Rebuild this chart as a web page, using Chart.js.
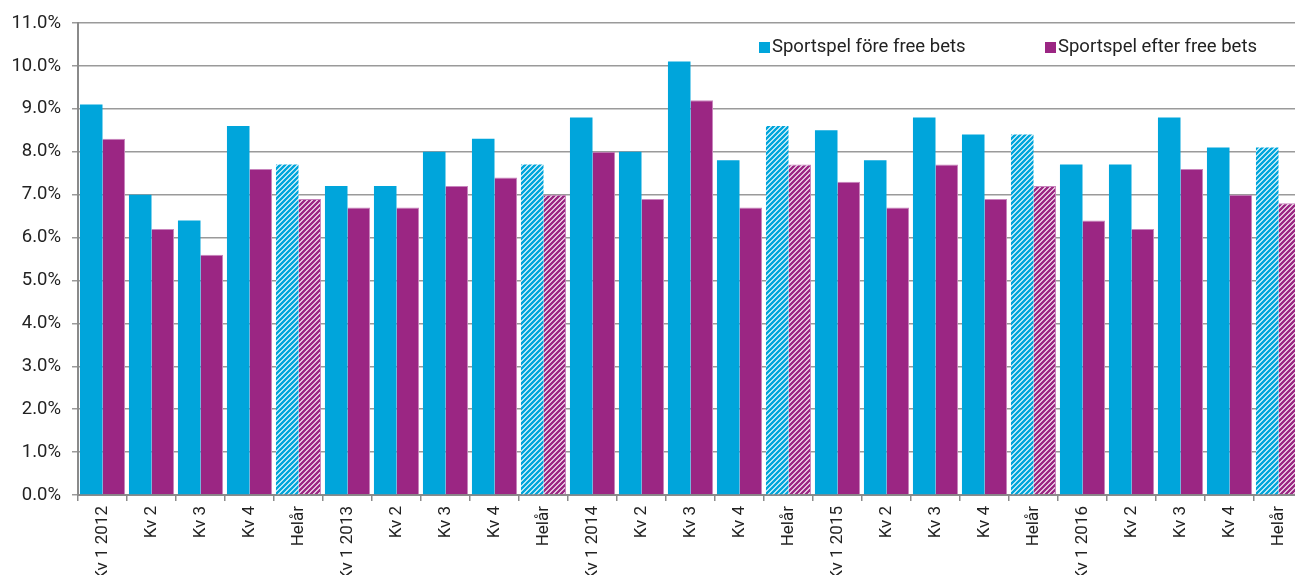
<!DOCTYPE html>
<html>
<head>
<meta charset="utf-8">
<script src="https://cdn.jsdelivr.net/npm/chart.js@4/dist/chart.umd.min.js"></script>
<style>
  html, body { margin: 0; padding: 0; background: #fff; overflow: hidden; }
  #wrap { width: 1305px; height: 575px; position: relative; }
</style>
</head>
<body>
<div id="wrap"><canvas id="c" width="1305" height="575"></canvas></div>
<script>
const categories = [
  'Kv 1 2012','Kv 2','Kv 3','Kv 4','Helår',
  'Kv 1 2013','Kv 2','Kv 3','Kv 4','Helår',
  'Kv 1 2014','Kv 2','Kv 3','Kv 4','Helår',
  'Kv 1 2015','Kv 2','Kv 3','Kv 4','Helår',
  'Kv 1 2016','Kv 2','Kv 3','Kv 4','Helår'
];
const foreFreeBets = [
  9.1, 7.0, 6.4, 8.6, 7.7,
  7.2, 7.2, 8.0, 8.3, 7.7,
  8.8, 8.0, 10.1, 7.8, 8.6,
  8.5, 7.8, 8.8, 8.4, 8.4,
  7.7, 7.7, 8.8, 8.1, 8.1
];
const efterFreeBets = [
  8.3, 6.2, 5.6, 7.6, 6.9,
  6.7, 6.7, 7.2, 7.4, 7.0,
  8.0, 6.9, 9.2, 6.7, 7.7,
  7.3, 6.7, 7.7, 6.9, 7.2,
  6.4, 6.2, 7.6, 7.0, 6.8
];
const seriesNames = ['Sportspel före free bets', 'Sportspel efter free bets'];
const yTicks = [0,1,2,3,4,5,6,7,8,9,10,11];

const BLUE = '#00a5db';
const PURPLE = '#9b2683';

function hatch(color) {
  const p = 5;
  const c = document.createElement('canvas');
  c.width = p; c.height = p;
  const g = c.getContext('2d');
  g.fillStyle = '#ffffff';
  g.fillRect(0, 0, p, p);
  g.strokeStyle = color;
  g.lineWidth = 2.5;
  g.beginPath();
  g.moveTo(-1, p + 1); g.lineTo(p + 1, -1);
  g.moveTo(-1, 1); g.lineTo(1, -1);
  g.moveTo(p - 1, p + 1); g.lineTo(p + 1, p - 1);
  g.stroke();
  return g.createPattern(c, 'repeat');
}
const ctx = document.getElementById('c').getContext('2d');
const blueHatch = hatch(BLUE);
const purpleHatch = hatch(PURPLE);
const isYear = categories.map(c => c === 'Helår');

const legendPlugin = {
  id: 'insideLegend',
  afterDraw(chart) {
    const g = chart.ctx;
    const pos = [759, 1045];
    const cols = [BLUE, PURPLE];
    g.save();
    g.font = '18.5px Roboto';
    g.textBaseline = 'middle';
    chart.data.datasets.forEach((ds, i) => {
      g.fillStyle = cols[i];
      g.fillRect(pos[i], 42, 11, 11);
      g.fillStyle = '#222';
      g.fillText(ds.label, pos[i] + 13, 47.5);
    });
    g.restore();
  }
};

new Chart(ctx, {
  type: 'bar',
  data: {
    labels: categories,
    datasets: [
      {
        label: seriesNames[0],
        data: foreFreeBets,
        backgroundColor: isYear.map(y => y ? blueHatch : BLUE),
        borderWidth: 0
      },
      {
        label: seriesNames[1],
        data: efterFreeBets,
        backgroundColor: isYear.map(y => y ? purpleHatch : PURPLE),
        borderColor: '#c884bd',
        borderWidth: { top: 1, right: 1, left: 0, bottom: 0 }
      }
    ]
  },
  options: {
    responsive: false,
    animation: false,
    devicePixelRatio: 1,
    layout: { padding: { top: 23, right: 2, left: 0, bottom: 0 } },
    plugins: {
      legend: { display: false },
      tooltip: { enabled: false }
    },
    datasets: {
      bar: { categoryPercentage: 0.92, barPercentage: 1.0 }
    },
    scales: {
      x: {
        offset: true,
        grid: {
          offset: true,
          drawOnChartArea: false,
          drawTicks: true,
          tickLength: 6,
          color: '#8a8a8a',
          lineWidth: 1.5
        },
        border: { display: true, color: '#8a8a8a', width: 2 },
        ticks: {
          minRotation: 90,
          maxRotation: 90,
          autoSkip: false,
          padding: 5,
          color: '#222',
          font: { family: 'Roboto', size: 17 }
        },
        afterFit(s) { s.height = 80; }
      },
      y: {
        min: 0,
        max: 11,
        afterBuildTicks(s) { s.ticks = yTicks.map(v => ({ value: v })); },
        grid: {
          color: '#9a9a9a',
          lineWidth: 1.5,
          tickLength: 6,
          drawTicks: true
        },
        border: { display: true, color: '#8a8a8a', width: 2 },
        ticks: {
          padding: 11,
          color: '#222',
          font: { family: 'Roboto', size: 18.5 },
          callback: v => Number(v).toFixed(1) + '%'
        },
        afterFit(s) { s.width = 78; }
      }
    }
  },
  plugins: [legendPlugin]
});
</script>
</body>
</html>
